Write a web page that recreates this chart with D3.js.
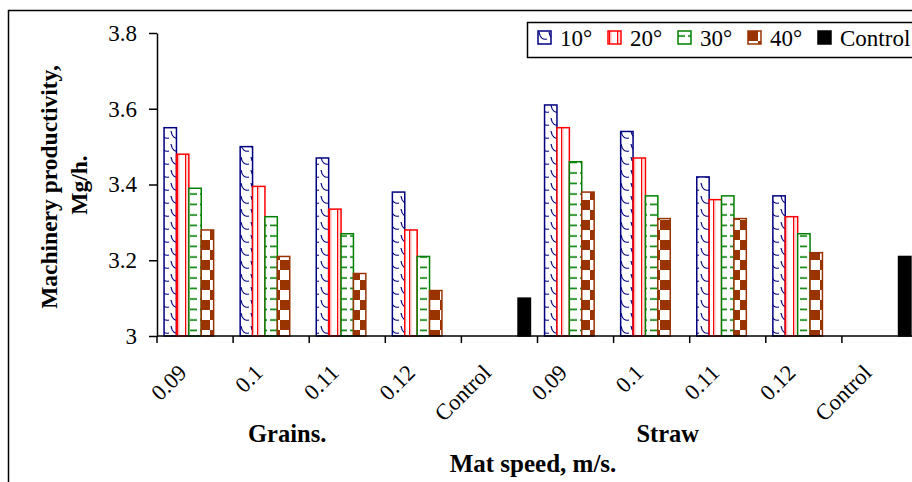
<!DOCTYPE html>
<html>
<head>
<meta charset="utf-8">
<script src="https://cdn.jsdelivr.net/npm/d3@7"></script>
<style>
  body { margin: 0; background: #fff; }
  svg { display: block; }
  svg text { font-family: "Liberation Serif", "Times New Roman", Times, serif; fill: #000; }
</style>
</head>
<body>
<svg id="chart" width="912" height="482"></svg>
<script>
"use strict";

// categories along the x-axis (two blocks of five)
const groups   = [ 'Grains.', 'Straw' ];
const speeds   = [ '0.09', '0.1', '0.11', '0.12', 'Control' ];
const series   = [ '10°', '20°', '30°', '40°', 'Control' ];
const yTicks   = [ 3, 3.2, 3.4, 3.6, 3.8 ];

// values per series, one entry per category (grains first, then straw)
const deg10   = [ 3.55, 3.50, 3.47, 3.38, null, 3.61, 3.54, 3.42, 3.37, null ];
const deg20   = [ 3.48, 3.395, 3.335, 3.28, null, 3.55, 3.47, 3.36, 3.315, null ];
const deg30   = [ 3.39, 3.315, 3.27, 3.21, null, 3.46, 3.37, 3.37, 3.27, null ];
const deg40   = [ 3.28, 3.21, 3.165, 3.12, null, 3.38, 3.31, 3.31, 3.22, null ];
const control = [ null, null, null, null, 3.10, null, null, null, null, 3.21 ];

const values = [ deg10, deg20, deg30, deg40, control ];

// category ids, e.g. "Grains.|0.09"
const cats = [];
groups.forEach( (g) => speeds.forEach( (s) => cats.push( g + '|' + s ) ) );

const svg = d3.select('#chart');

// patterns
const defs = svg.append('defs');
const colors = [ '#000080', '#ff0000', '#008000', '#993300', '#000000' ];

const p10 = defs.append('pattern')
    .attr('id', 'pat0').attr('patternUnits', 'userSpaceOnUse')
    .attr('width', 10).attr('height', 13);
p10.append('rect').attr('width', 10).attr('height', 13).attr('fill', '#fff');
p10.append('path')
    .attr('d', 'M1,1 C2,7 5,9 9,8')
    .attr('fill', 'none').attr('stroke', colors[0]).attr('stroke-width', 1.2);

const p20 = defs.append('pattern')
    .attr('id', 'pat1').attr('patternUnits', 'userSpaceOnUse')
    .attr('width', 8).attr('height', 8);
p20.append('rect').attr('width', 8).attr('height', 8).attr('fill', '#fff');
p20.append('rect').attr('x', 1).attr('width', 1.4).attr('height', 8).attr('fill', colors[1]);
p20.append('rect').attr('x', 2.4).attr('width', 1.2).attr('height', 8).attr('fill', '#ffc8c8');

const p30 = defs.append('pattern')
    .attr('id', 'pat2').attr('patternUnits', 'userSpaceOnUse')
    .attr('width', 10).attr('height', 10.5);
p30.append('rect').attr('width', 10).attr('height', 10.5).attr('fill', '#fff');
p30.append('line')
    .attr('x1', 0).attr('x2', 7).attr('y1', 5).attr('y2', 5)
    .attr('stroke', colors[2]).attr('stroke-width', 1.6);

const p40 = defs.append('pattern')
    .attr('id', 'pat3').attr('patternUnits', 'userSpaceOnUse')
    .attr('width', 20).attr('height', 20);
p40.append('rect').attr('width', 20).attr('height', 20).attr('fill', '#fff');
p40.append('rect').attr('width', 10).attr('height', 10).attr('fill', colors[3]);
p40.append('rect').attr('x', 10).attr('y', 10).attr('width', 10).attr('height', 10).attr('fill', colors[3]);

const fills = [ 'url(#pat0)', 'url(#pat1)', 'url(#pat2)', 'url(#pat3)', '#000' ];

// outer frame
svg.append('rect')
    .attr('x', 8.5).attr('y', 10.5)
    .attr('width', 1000).attr('height', 1000)
    .attr('fill', 'none').attr('stroke', '#000').attr('stroke-width', 1.5);

// scales
const x0 = d3.scaleBand()
    .domain( cats )
    .range([ 157, 918 ]);

const x1 = d3.scaleBand()
    .domain( series )
    .range([ 0, x0.bandwidth() ])
    .paddingInner( 0 )
    .paddingOuter( 0.57 );

const y = d3.scaleLinear()
    .domain([ 3, 3.8 ])
    .range([ 336, 33 ]);

// bars
const bars = [];
values.forEach( (arr, si) => arr.forEach( (v, ci) => {
  if( v != null ) { bars.push({ s: si, c: cats[ci], v: v }); }
}));

svg.append('g')
  .selectAll('rect')
  .data( bars )
  .enter().append('rect')
    .attr('x',      (d) => x0(d.c) + x1(series[d.s]) )
    .attr('y',      (d) => y(d.v) )
    .attr('width',  x1.bandwidth() )
    .attr('height', (d) => y(3) - y(d.v) )
    .attr('fill',   (d) => fills[d.s] )
    .attr('stroke', (d) => colors[d.s] )
    .attr('stroke-width', 1.5);

// y-axis
const yAxis = svg.append('g')
    .attr('transform', 'translate(157,0)')
    .call( d3.axisLeft( y )
             .tickValues( yTicks )
             .tickSizeInner( 8 )
             .tickSizeOuter( 0 )
             .tickPadding( 12 )
             .tickFormat( (d) => String( +d.toFixed(1) ) ) );
yAxis.attr('font-family', null);
yAxis.select('.domain').attr('stroke-width', 1.5);
yAxis.selectAll('.tick line').attr('stroke-width', 1.5);
yAxis.selectAll('.tick text')
    .attr('font-size', 23);

// x-axis line and boundary ticks
const xAxis = svg.append('g');
xAxis.append('line')
    .attr('x1', x0.range()[0]).attr('x2', x0.range()[1])
    .attr('y1', y(3)).attr('y2', y(3))
    .attr('stroke', '#000').attr('stroke-width', 1.5);
xAxis.selectAll('.xtick')
    .data( cats.map( (c) => x0(c) ).concat([ x0.range()[1] ]) )
    .enter().append('line')
    .attr('x1', (d) => d).attr('x2', (d) => d)
    .attr('y1', y(3)).attr('y2', y(3) + 7)
    .attr('stroke', '#000').attr('stroke-width', 1.5);

// rotated category labels
xAxis.selectAll('.xlabel')
    .data( cats )
    .enter().append('text')
    .attr('transform', (c) => `translate(${x0(c) + x0.bandwidth() / 2 - 7},374) rotate(-45)`)
    .attr('text-anchor', 'end')
    .attr('font-size', 22.5)
    .text( (c) => c.split('|')[1] );

// group labels, centred a bit left of the first four categories
groups.forEach( (g) => {
  const first = x0( g + '|' + speeds[0] ),
        last  = x0( g + '|' + speeds[3] ) + x0.bandwidth();
  svg.append('text')
      .attr('x', (first + last) / 2 - 22)
      .attr('y', 442)
      .attr('text-anchor', 'middle')
      .attr('font-weight', 'bold')
      .attr('font-size', 24.5)
      .text( g );
});

// axis titles
svg.append('text')
    .attr('x', 533).attr('y', 472)
    .attr('text-anchor', 'middle')
    .attr('font-weight', 'bold')
    .attr('font-size', 25)
    .text('Mat speed, m/s.');

svg.append('text')
    .attr('transform', 'translate(57,187) rotate(-90)')
    .attr('text-anchor', 'middle')
    .attr('font-weight', 'bold')
    .attr('font-size', 23.5)
    .text('Machinery productivity,');

svg.append('text')
    .attr('transform', 'translate(87,185) rotate(-90)')
    .attr('text-anchor', 'middle')
    .attr('font-weight', 'bold')
    .attr('font-size', 23.5)
    .text('Mg/h.');

// legend
const legend = svg.append('g');
legend.append('rect')
    .attr('x', 527.5).attr('y', 22.5)
    .attr('width', 420).attr('height', 35)
    .attr('fill', '#fff').attr('stroke', '#000').attr('stroke-width', 1.5);

const items = legend.selectAll('.item')
    .data( series )
    .enter().append('g')
    .attr('transform', (d, i) => `translate(${538 + i * 70},31)`);

items.append('rect')
    .attr('width', 13).attr('height', 13)
    .attr('fill',   (d, i) => fills[i] )
    .attr('stroke', (d, i) => colors[i] )
    .attr('stroke-width', 1.5);

items.append('text')
    .attr('x', 22).attr('y', 15)
    .attr('font-size', 23)
    .text( (d) => d );
</script>
</body>
</html>
